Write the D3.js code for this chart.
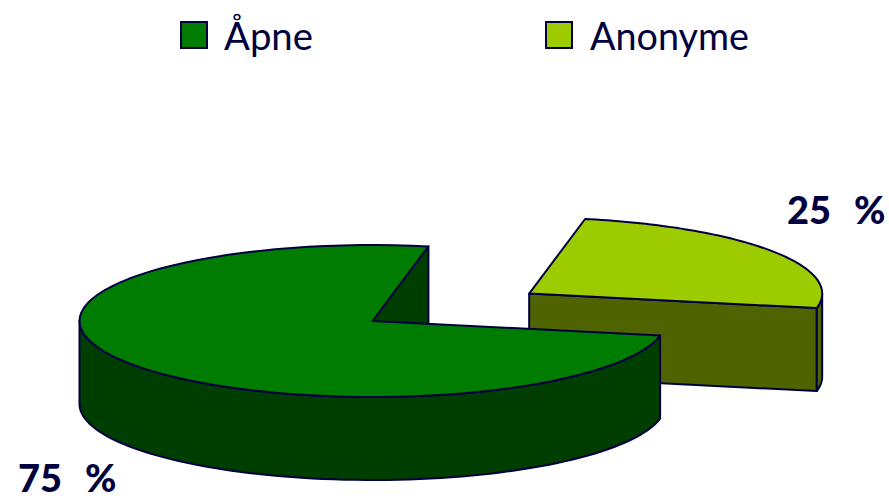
<!DOCTYPE html>
<html>
<head>
<meta charset="utf-8">
<script src="https://cdn.jsdelivr.net/npm/d3@7"></script>
<style>
  html, body { margin: 0; padding: 0; background: #fff; }
  text { fill: #000040; font-family: "Lato", "DejaVu Sans", sans-serif; }
</style>
</head>
<body>
<div id="chart"></div>
<script>
const categories = ['Åpne', 'Anonyme'];
const values = [75, 25];
const valueLabels = ['75 %', '25 %'];
const topColors = ['#007d00', '#9ccc00'];
const sideColors = ['#003e00', '#4f6300'];
const inkColor = '#000040';

const width = 889, height = 500;
const rad = Math.PI / 180;

// pie squashed to an ellipse, the way the old 3D office charts do it
const center = {x: 372.5, y: 321};
const rx = 293, ry = 76, depth = 83;
const explode = 0.645;

const svg = d3.select('#chart').append('svg')
  .attr('width', width)
  .attr('height', height);

const slices = d3.pie().sort(null)
  .startAngle(101 * rad)
  .endAngle(461 * rad)(values);

const xScale = d3.scaleLinear().domain([-1, 1]).range([center.x - rx, center.x + rx]);
const yScale = d3.scaleLinear().domain([-1, 1]).range([center.y + ry, center.y - ry]);

const line = d3.line();

// point on the rim of the slice, dz pushes it down to the bottom face
const rim = (s, a, dz = 0) => [
  xScale(Math.sin(a)) + s.dx,
  yScale(Math.cos(a)) + s.dy + dz
];
const hub = (s, dz = 0) => [xScale(0) + s.dx, yScale(0) + s.dy + dz];
const arcPts = (a0, a1, s, dz = 0) => {
  const n = 80;
  return d3.range(n + 1).map(i => rim(s, a0 + (a1 - a0) * i / n, dz));
};

slices.forEach((d, i) => {
  d.dx = 0;
  d.dy = 0;
  if (i == 1) {
    const mid = (d.startAngle + d.endAngle) / 2;
    d.dx = explode * Math.sin(mid) * rx;
    d.dy = -explode * Math.cos(mid) * ry;
  }
});

const drawPoly = (pts, fill) => svg.append('path')
  .attr('d', line(pts) + 'Z')
  .attr('fill', fill)
  .attr('stroke', inkColor)
  .attr('stroke-width', 2)
  .attr('stroke-linejoin', 'round');

// wall along the curved edge, only the part that faces the viewer
const drawRimWall = (s, a0, a1, fill) => {
  const top = arcPts(a0, a1, s);
  const bottom = arcPts(a0, a1, s, depth).reverse();
  drawPoly(top.concat(bottom), fill);
};

// wall along one of the cut edges
const drawCutWall = (s, a, fill) => {
  drawPoly([hub(s), rim(s, a), rim(s, a, depth), hub(s, depth)], fill);
};

const drawTop = (s, fill) => {
  drawPoly([hub(s)].concat(arcPts(s.startAngle, s.endAngle, s)), fill);
};

// exploded slice goes first, the big one sits in front of it
const anon = slices[1];
drawCutWall(anon, anon.endAngle, sideColors[1]);
drawRimWall(anon, 90 * rad + 2 * Math.PI, anon.endAngle, sideColors[1]);
drawTop(anon, topColors[1]);

const open = slices[0];
drawCutWall(open, open.endAngle, sideColors[0]);
drawRimWall(open, open.startAngle, 270 * rad, sideColors[0]);
drawTop(open, topColors[0]);

// legend
const legendX = d3.scaleOrdinal().domain(categories).range([181, 546]);
const legend = svg.selectAll('.legend')
  .data(categories)
  .enter().append('g')
  .attr('class', 'legend')
  .attr('transform', d => `translate(${legendX(d)},22)`);

legend.append('rect')
  .attr('width', 26)
  .attr('height', 26)
  .attr('fill', (d, i) => topColors[i])
  .attr('stroke', inkColor)
  .attr('stroke-width', 2);

legend.append('text')
  .attr('x', (d, i) => [43, 44][i])
  .attr('y', 28)
  .attr('font-size', 38)
  .attr('textLength', (d, i) => [89, 159][i])
  .attr('lengthAdjust', 'spacingAndGlyphs')
  .text(d => d);

// value labels
const labelX = [18, 787], labelY = [492, 224];
svg.selectAll('.value')
  .data(valueLabels)
  .enter().append('text')
  .attr('class', 'value')
  .attr('x', (d, i) => labelX[i])
  .attr('y', (d, i) => labelY[i])
  .attr('font-size', 38)
  .attr('font-weight', 900)
  .attr('word-spacing', 14)
  .text(d => d);
</script>
</body>
</html>
